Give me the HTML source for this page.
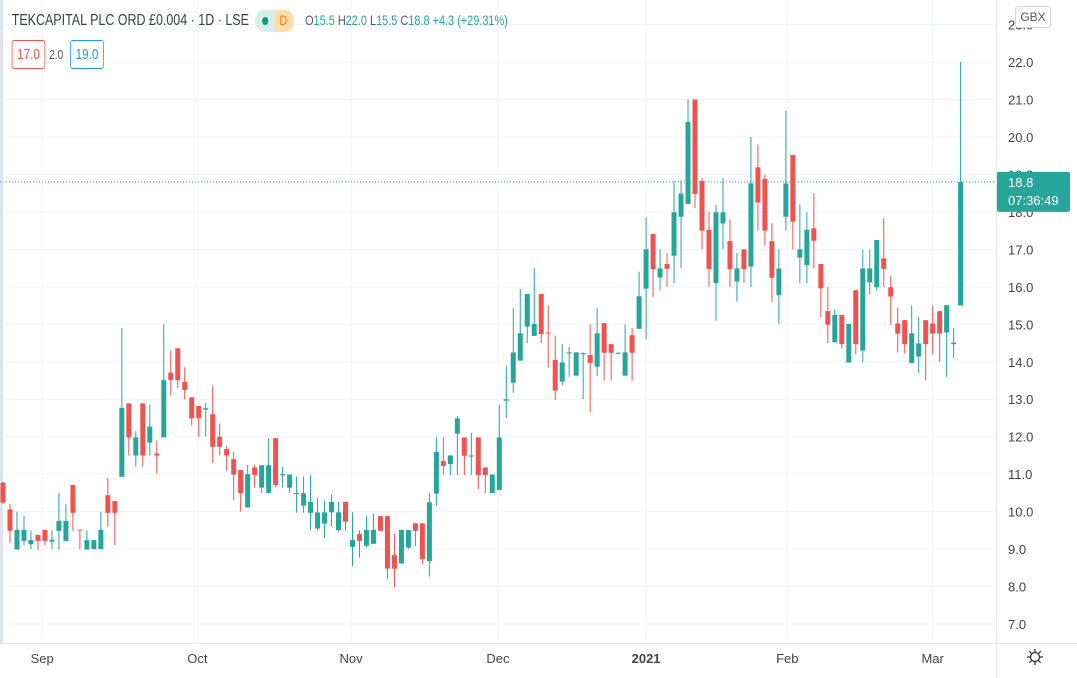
<!DOCTYPE html>
<html><head><meta charset="utf-8"><style>
html,body{margin:0;padding:0;background:#fff;width:1077px;height:678px;overflow:hidden;font-family:"Liberation Sans",sans-serif}
#wrap{position:relative;width:1077px;height:678px}
svg{position:absolute;left:0;top:0}
#hdrwrap{position:absolute;left:0;top:0;width:1000px;height:75px;transform:scaleX(0.78);transform-origin:0 0}
.hdr{position:absolute;left:15px;top:10px;font-size:16px;color:#3c3f48;white-space:nowrap}
.ohlc{font-size:14px;color:#555;margin-left:14px}
.ohlc b{font-weight:normal;color:#26a69a}
.pill{display:inline-block;vertical-align:middle;width:50px;height:22px;border-radius:11px;background:linear-gradient(90deg,#d6efec 50%,#fddcae 50%);position:relative;margin-left:8px}
.box{position:absolute;top:40px;height:27px;line-height:27px;font-size:15px;border-radius:3px;padding:0 6px}
</style></head><body><div id="wrap">
<svg id="svg" width="1077" height="678"></svg>
<div id="hdrwrap">
<div class="hdr">TEKCAPITAL PLC ORD £0.004 · 1D · LSE<span class="pill"><span style="position:absolute;left:9px;top:7px;width:8px;height:8px;border-radius:4px;background:#089981"></span><span style="position:absolute;left:31px;top:2px;font-size:14px;color:#f57c00">D</span></span><span class="ohlc">O<b>15.5</b> H<b>22.0</b> L<b>15.5</b> C<b>18.8</b> <b>+4.3 (+29.31%)</b></span></div>
<div class="box" style="left:15px;border:1px solid #ef5350;color:#ef5350">17.0</div>
<div style="position:absolute;left:63px;top:40px;line-height:29px;font-size:13px;color:#555">2.0</div>
<div class="box" style="left:90px;border:1px solid #2196f3;color:#2196f3">19.0</div>
</div>
<div style="position:absolute;left:1015px;top:6px;width:34px;height:20px;border:1px solid #d1d4dc;border-radius:3px;background:#fff;font-size:12px;color:#555;line-height:20px;text-align:center">GBX</div>
</div>
<script>
const opens=[10.77,10.06,8.99,9.22,9.13,9.38,9.51,9.2,9.49,9.22,10.71,9.52,8.99,9.0,9.0,10.44,10.28,10.93,12.89,11.5,12.89,11.84,11.55,11.98,13.71,14.36,13.46,13.05,12.82,12.72,12.6,12.0,11.67,11.40,11.11,10.11,11.18,10.64,10.5,11.96,10.97,10.64,10.47,10.16,9.97,9.55,9.68,9.98,9.51,10.26,9.06,9.4,9.09,9.14,9.88,9.88,8.84,8.62,9.04,9.69,9.69,8.68,10.48,11.35,11.27,12.08,11.98,11.47,11.98,11.18,10.5,10.58,12.96,13.44,14.03,14.94,14.69,15.81,14.78,14.05,13.47,14.22,13.63,14.2,14.18,13.87,15.03,14.47,14.22,13.63,14.71,14.88,15.95,17.41,16.25,16.61,16.83,17.87,18.21,21.0,18.82,17.52,16.1,17.69,17.22,16.14,17.0,16.54,19.19,18.88,17.22,15.78,17.87,19.52,16.78,16.58,17.56,16.61,15.35,14.52,15.25,13.98,15.91,14.3,16.12,15.99,16.76,15.99,15.02,15.11,13.97,14.14,15.11,15.02,15.35,14.78,14.47,15.5];
const highs=[10.8,10.2,10.0,9.88,9.5,9.38,9.51,9.5,10.5,10.2,10.71,9.52,9.5,9.24,10.0,10.9,10.28,14.9,12.89,12.15,12.89,12.86,11.9,15.0,14.3,14.36,13.85,13.05,12.82,12.9,13.35,12.35,11.75,11.6,11.11,11.25,11.25,11.24,11.96,11.96,11.2,10.99,10.94,10.94,10.98,10.37,10.3,10.45,10.26,10.26,9.98,9.5,9.88,9.95,9.88,9.88,9.4,9.51,9.51,9.69,9.69,10.5,11.99,11.99,11.5,12.55,11.98,12.1,11.98,11.18,10.99,12.85,13.9,15.43,15.94,15.81,16.5,15.81,15.5,14.7,14.47,14.4,14.25,14.25,15.0,15.43,15.03,14.47,14.25,15.0,14.9,16.4,17.86,17.41,17.0,16.9,18.83,18.84,21.0,21.0,18.9,18.0,18.2,18.9,17.8,16.9,17.0,20.0,19.8,19.0,17.7,17.0,20.7,19.52,18.2,17.99,18.5,16.61,16.0,15.4,15.25,15.01,15.91,16.99,16.99,17.25,17.83,16.3,15.45,15.11,15.5,15.2,15.11,15.5,15.35,15.51,14.9,22.0];
const lows=[10.2,9.17,8.99,9.1,9.0,8.98,9.1,9.0,8.99,9.22,9.49,9.0,8.99,9.0,9.0,9.6,9.1,10.93,11.5,11.2,11.2,11.5,11.0,11.98,13.1,13.3,13.0,12.3,12.0,12.0,11.3,11.5,11.1,10.3,10.0,10.11,10.63,10.5,10.5,10.65,10.64,10.5,9.97,9.97,9.5,9.5,9.3,9.6,9.47,9.5,8.55,8.77,9.05,9.14,9.49,8.2,7.98,8.6,9.0,9.08,8.6,8.27,10.15,10.98,10.98,10.98,10.98,10.98,10.6,10.5,10.5,10.58,12.5,13.17,14.03,14.5,14.69,14.5,13.85,12.98,13.37,13.6,13.63,13.0,12.65,13.62,13.5,13.5,14.2,13.63,13.5,14.88,14.6,15.73,15.9,16.0,16.1,16.5,18.21,18.1,17.0,16.0,15.1,17.0,16.0,15.6,16.1,16.0,17.5,17.1,15.6,15.0,17.5,17.0,16.1,16.1,16.5,15.2,14.5,14.52,14.35,13.98,14.2,13.98,15.8,15.9,15.99,14.98,14.25,14.22,13.97,13.7,13.5,14.2,14.0,13.6,14.1,15.5];
const closes=[10.24,9.49,9.51,9.51,9.24,9.22,9.22,9.25,9.75,9.75,9.97,9.5,9.24,9.24,9.51,9.97,9.97,12.77,11.98,11.98,11.5,12.27,11.5,13.51,13.51,13.51,13.25,12.49,12.49,12.76,11.73,11.73,11.5,10.99,10.49,11.0,10.98,11.24,11.24,10.71,11.0,10.99,10.5,10.49,10.26,9.98,9.98,10.26,9.98,9.73,9.24,9.22,9.51,9.51,9.49,8.48,8.48,9.51,9.51,9.49,8.74,10.25,11.59,11.22,11.5,12.49,11.49,11.5,10.98,10.98,10.99,11.98,13.0,14.25,14.76,15.81,15.01,14.74,14.76,13.23,13.98,14.25,14.25,14.23,13.97,14.76,14.24,14.24,14.24,14.25,14.24,15.75,17.0,16.47,16.49,16.48,17.99,18.49,20.4,18.48,17.5,16.47,17.99,17.99,16.47,16.49,16.47,18.76,18.25,17.5,16.24,16.49,18.76,17.74,17.0,17.52,17.23,15.96,14.99,15.25,14.47,15.01,14.47,16.49,16.49,17.25,16.48,15.74,14.75,14.47,14.76,14.49,14.47,14.75,14.75,15.51,14.51,18.8];
const priceTicks=[7,8,9,10,11,12,13,14,15,16,17,18,19,20,21,22,23];
const monthLabels=["Sep","Oct","Nov","Dec","2021","Feb","Mar"];
const monthIndex=[5.6,27.8,49.8,70.8,92,112.2,133];
const lastPrice=18.8;
</script>
<script>
const NS="http://www.w3.org/2000/svg";
const svg=document.getElementById('svg');
const yS=v=>62+(22-v)*37.47;
const xS=i=>3+i*6.99;
function mk(t,a,p){const e=document.createElementNS(NS,t);for(const k in a)e.setAttribute(k,a[k]);(p||svg).appendChild(e);return e;}
mk('rect',{x:0,y:0,width:3,height:643,fill:'#e0e3eb'});
const grid=mk('g',{});


priceTicks.forEach(v=>{mk('line',{x1:3,x2:996,y1:yS(v),y2:yS(v),stroke:'#f0f3fa','stroke-width':1},grid);});
monthIndex.forEach(i=>{mk('line',{x1:xS(i),x2:xS(i),y1:0,y2:643,stroke:'#f0f3fa','stroke-width':1},grid);});
const cg=mk('g',{});


opens.forEach((o,i)=>{
  const c=closes[i],up=c>=o,col=up?'#26a69a':'#ef5350',x=xS(i);
  const g=mk('g',{},cg);
  
  
  mk('line',{x1:x,x2:x,y1:yS(highs[i]),y2:yS(lows[i]),stroke:col,'stroke-width':1},g);
  const t=yS(Math.max(o,c)),b=yS(Math.min(o,c));
  mk('rect',{x:x-2.5,y:t,width:5,height:Math.max(1,b-t),fill:col},g);
});
const pl=mk('line',{x1:0,x2:996,y1:yS(lastPrice),y2:yS(lastPrice),stroke:'#26a69a','stroke-width':1,'stroke-dasharray':'1,2'});


mk('line',{x1:996.5,x2:996.5,y1:0,y2:678,stroke:'#e0e3eb'});
mk('line',{x1:0,x2:1077,y1:643.5,y2:643.5,stroke:'#e0e3eb'});
const ya=mk('g',{});


priceTicks.forEach(v=>{const t=mk('text',{x:1008,y:yS(v)+5,'font-size':13,fill:'#444','font-family':'Liberation Sans'},ya);t.textContent=v.toFixed(1);});
const pb=mk('g',{});


mk('rect',{x:997,y:yS(lastPrice)-10,width:73,height:40,fill:'#26a69a',rx:2},pb);
let t1=mk('text',{x:1008,y:yS(lastPrice)+5,'font-size':13,fill:'#fff'},pb);t1.textContent=lastPrice.toFixed(1);
let t2=mk('text',{x:1008,y:yS(lastPrice)+23,'font-size':13,fill:'#fff'},pb);t2.textContent='07:36:49';
const xa=mk('g',{});


monthLabels.forEach((m,k)=>{const t=mk('text',{x:xS(monthIndex[k]),y:663,'font-size':13,fill:'#444','text-anchor':'middle','font-weight':m==='2021'?'bold':'normal'},xa);t.textContent=m;});
const gear=mk('g',{transform:'translate(1035,657)',fill:'none',stroke:'#333','stroke-width':1.3});


mk('circle',{r:4.5},gear);
for(let k=0;k<8;k++){const a=k*Math.PI/4;mk('line',{x1:5*Math.cos(a),y1:5*Math.sin(a),x2:8*Math.cos(a),y2:8*Math.sin(a)},gear);}
</script></body></html>
